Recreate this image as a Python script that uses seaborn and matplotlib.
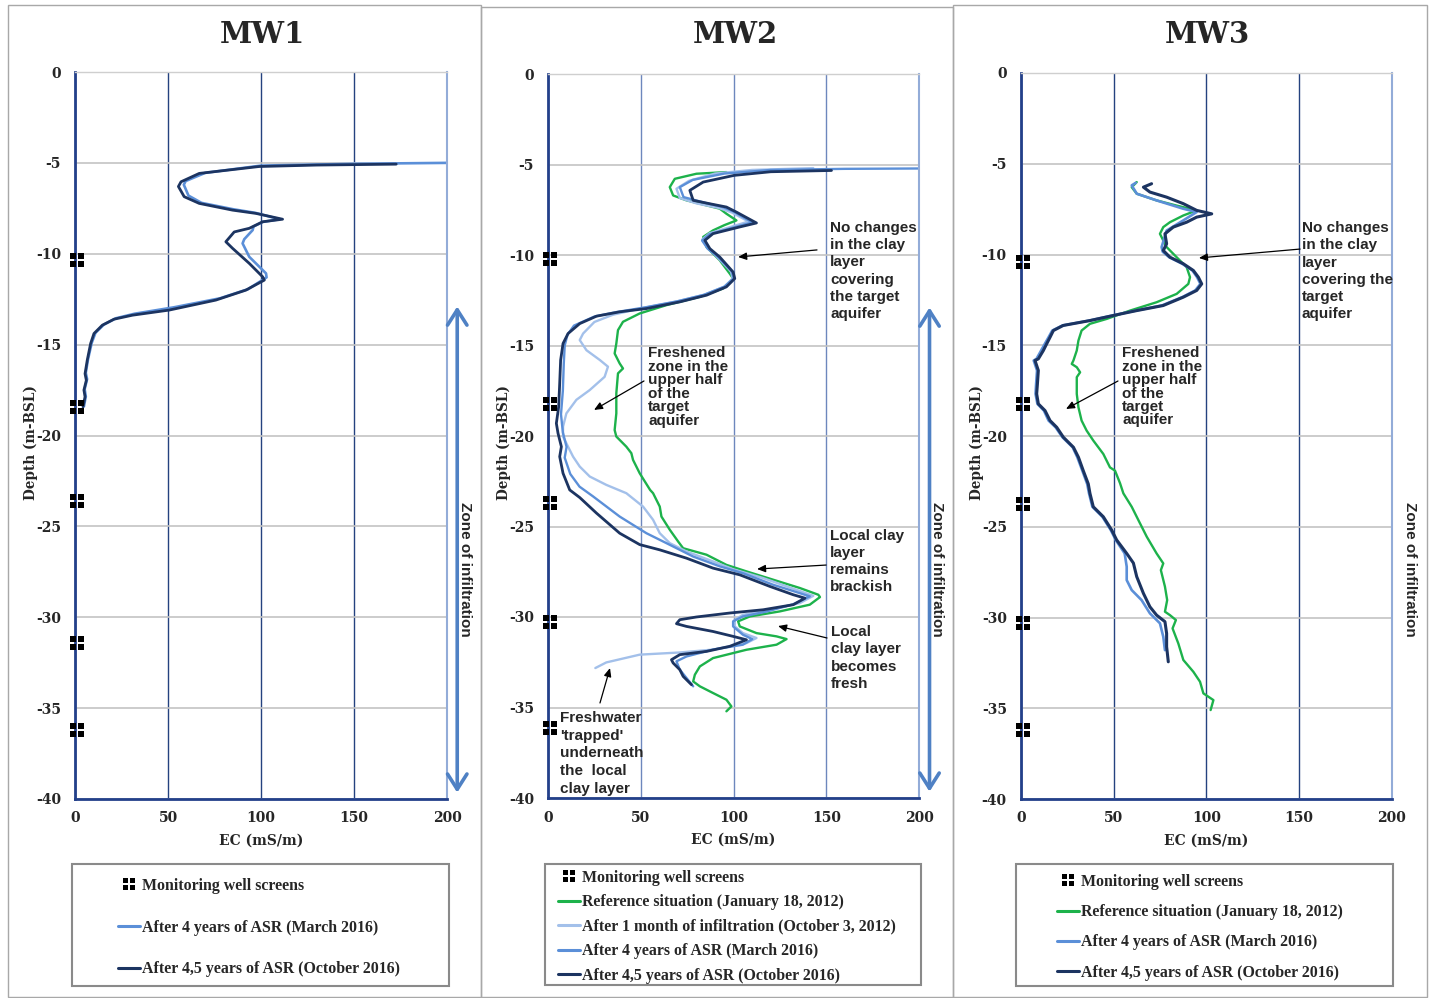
import matplotlib
matplotlib.use("Agg")
import matplotlib.pyplot as plt
import seaborn as sns
from matplotlib.lines import Line2D
from matplotlib.patches import Rectangle
from matplotlib.path import Path

# ---------------- data ----------------
ec_ticks = [0, 50, 100, 150, 200]
depth_ticks = [0, -5, -10, -15, -20, -25, -30, -35, -40]

# MW1
mw1_oct16_ec = [172.7, 130, 99, 66.8, 57, 55.6, 58.7, 66.8, 84.7, 97.3, 111.6, 100.9, 93.7, 85.6, 81.1, 84.7, 93.7,
                100.9, 101.8, 91.9, 75.7, 50.6, 30.9, 21.0, 14.7, 10.2, 8.4, 6.6, 5.4, 6.1, 4.8, 5.4, 4.3]
mw1_oct16_depth = [-5.07, -5.12, -5.2, -5.58, -6.04, -6.3, -6.86, -7.23, -7.6, -7.78, -8.1, -8.24, -8.6, -8.8, -9.34,
                   -9.7, -10.53, -11.27, -11.45, -12.0, -12.55, -13.1, -13.38, -13.6, -13.93, -14.39, -14.94, -15.85,
                   -16.6, -16.96, -17.5, -17.87, -18.42]
mw1_mar16_ec = [200, 150, 100, 70, 59.5, 58.5, 61, 68, 85, 97, 110, 101, 96, 95.5, 91, 90.1, 93.7, 102.7, 103, 93, 78,
                53, 32, 22, 15.5, 11, 9, 7, 5.8, 6.5, 5.2, 5.8, 4.8]
mw1_mar16_depth = [-5.0, -5.05, -5.15, -5.55, -6.0, -6.2, -6.8, -7.2, -7.55, -7.75, -8.1, -8.25, -8.5, -8.7, -9.2,
                   -9.43, -10.17, -11.08, -11.3, -11.95, -12.45, -12.95, -13.3, -13.55, -13.9, -14.35, -14.9, -15.8,
                   -16.55, -16.9, -17.45, -17.85, -18.4]
mw1_screens = [-10.34, -18.43, -23.6, -31.4, -36.2]

# MW2
mw2_jan12_ec = [96.1, 80, 68.3, 65.6, 67.4, 74.6, 85.4, 92.5, 96.1, 101.5, 95, 88.9, 83.6, 85.4, 92.5, 97.9, 99.7,
                94.3, 81.8, 63.8, 49.4, 40.4, 37.7, 36.8, 35.9, 38.6, 40.4, 37.7, 36.8, 36.8, 35.9, 36.8, 42.2, 44.9,
                45.8, 49.4, 55, 56.6, 60.2, 61.1, 65.6, 70.1, 72.8, 85.4, 96.1, 106.9, 121.3, 135.7, 145.6, 146.5,
                141, 124.9, 108.7, 102.4, 103.3, 112.3, 123.1, 128.5, 123.1, 106.9, 88.9, 81.8, 79.1, 78.2, 81.8,
                88.9, 96.1, 98.8, 96.1]
mw2_jan12_depth = [-5.42, -5.51, -5.79, -6.25, -6.71, -6.98, -7.26, -7.44, -7.72, -8.09, -8.35, -8.64, -9.0, -9.56,
                   -10.29, -11.03, -11.3, -11.85, -12.31, -12.77, -13.23, -13.69, -14.15, -14.89, -15.44, -15.99,
                   -16.27, -16.54, -17.64, -18.75, -19.67, -20.03, -20.59, -20.95, -21.32, -22.06, -22.98, -23.16,
                   -23.9, -24.45, -25.18, -25.83, -26.2, -26.56, -27.12, -27.48, -27.94, -28.4, -28.77, -28.9,
                   -29.32, -29.69, -29.97, -30.24, -30.52, -30.89, -31.07, -31.22, -31.53, -31.81, -32.27, -32.73,
                   -33.19, -33.56, -33.83, -34.2, -34.57, -34.94, -35.21]
mw2_oct12_ec = [142.9, 110, 90, 76, 69.2, 71, 80, 92, 99, 108, 100, 87, 83, 86, 91, 98.5, 99.5, 95, 84, 68, 50, 35,
                25, 18.9, 17.1, 20.7, 27.9, 32.3, 30.5, 22.5, 15.3, 9.9, 8.1, 8.1, 10.8, 13.5, 17.1, 22.5, 31.4, 42.2,
                51.2, 56.6, 60.2, 65.6, 74.6, 88.9, 99.7, 115.9, 133.9, 142.9, 135.7, 119.5, 105, 100.6, 100.6, 105,
                112.3, 106.9, 88.9, 71, 49.4, 31.4, 25.5]
mw2_oct12_depth = [-5.2, -5.3, -5.5, -5.9, -6.34, -6.85, -7.15, -7.4, -7.65, -8.15, -8.4, -8.8, -9.15, -9.6, -10.1,
                   -10.9, -11.3, -11.75, -12.2, -12.6, -12.95, -13.3, -13.7, -14.34, -14.7, -15.26, -15.8, -16.17,
                   -16.73, -17.46, -18.0, -18.75, -19.48, -20.03, -20.59, -21.14, -21.69, -22.24, -22.7, -23.16,
                   -23.9, -24.63, -25.37, -25.92, -26.38, -26.93, -27.36, -27.85, -28.5, -28.83, -29.23, -29.6,
                   -29.88, -30.15, -30.52, -30.89, -31.16, -31.44, -31.8, -31.96, -32.08, -32.51, -32.82]
mw2_mar16_ec = [200, 160, 120, 95, 78, 71, 73, 84, 94, 100, 110, 101, 87, 83, 86, 91.5, 99, 100, 95, 84, 70, 52, 37,
                25, 14, 10.5, 9, 8.5, 8, 7, 8, 10, 9, 12, 17, 24.3, 38.6, 53, 63.8, 78.2, 92.5, 105, 121.3, 135.6,
                141, 132, 117.7, 105, 99.7, 99.7, 105, 110, 105, 88.9, 74.6, 69.2, 71, 74.6, 78.2]
mw2_mar16_depth = [-5.22, -5.24, -5.3, -5.5, -5.85, -6.25, -6.8, -7.1, -7.35, -7.6, -8.2, -8.45, -8.85, -9.2, -9.65,
                   -10.1, -10.9, -11.3, -11.75, -12.2, -12.55, -12.9, -13.15, -13.4, -13.9, -14.4, -15.0, -16.0,
                   -17.5, -18.8, -19.8, -20.6, -21.2, -22.1, -22.8, -23.34, -24.45, -25.37, -25.92, -26.66, -27.2,
                   -27.58, -28.22, -28.68, -28.86, -29.3, -29.7, -29.97, -30.24, -30.52, -30.98, -31.22, -31.53,
                   -31.8, -32.18, -32.45, -32.91, -33.37, -33.83]
mw2_oct16_ec = [152.7, 120, 100.3, 83.6, 76.4, 78.2, 87.2, 96.1, 101.5, 112.3, 103.3, 88.9, 84.5, 87.2, 92.5, 99.7,
                100.6, 96.1, 85.4, 71, 53, 38.6, 26.1, 17.1, 10.8, 8.1, 6.8, 6.3, 5.75, 4.5, 5.4, 7.2, 6.3, 8.1,
                11.7, 17.1, 26.1, 38.6, 49.4, 60.2, 74.6, 88.9, 103.3, 119.5, 132.1, 138.4, 132.1, 115.9, 97.9,
                79.9, 71, 69.2, 74.6, 88.9, 99.7, 106.9, 97.9, 85.4, 71, 66.5, 67.4, 71, 72.8, 76.4, 77.3]
mw2_oct16_depth = [-5.33, -5.4, -5.6, -5.97, -6.43, -6.98, -7.17, -7.35, -7.63, -8.23, -8.45, -8.82, -9.19, -9.65,
                   -10.11, -10.94, -11.3, -11.76, -12.22, -12.59, -12.96, -13.14, -13.38, -13.79, -14.34, -14.89,
                   -15.81, -17.09, -18.38, -19.3, -19.85, -20.59, -21.14, -22.06, -22.98, -23.4, -24.26, -25.37,
                   -26.0, -26.29, -26.75, -27.3, -27.67, -28.31, -28.77, -28.96, -29.32, -29.6, -29.78, -30.0,
                   -30.15, -30.37, -30.52, -30.8, -31.07, -31.26, -31.62, -31.9, -32.08, -32.36, -32.54, -32.91,
                   -33.28, -33.65, -33.74]
mw2_screens = [-10.22, -18.23, -23.7, -30.28, -36.13]

# MW3
mw3_jan12_ec = [62.5, 59.8, 62.5, 73.2, 83.8, 94.8, 87.6, 80.4, 76.8, 75, 76.8, 78.6, 84, 89.4, 91.2, 90.3, 84, 73.2,
                58.9, 46.3, 37.3, 32.8, 31.1, 30.2, 28.4, 27.5, 30.2, 32, 30.2, 30.2, 31.1, 32.8, 35.5, 39.1, 44.5,
                48.1, 50.8, 53.5, 55.3, 59.8, 64.3, 67.9, 73.2, 76.8, 75.5, 77.7, 78.9, 77.7, 80.4, 83.6, 81.8, 84.9,
                87.6, 93, 96.6, 98.4, 103.8, 102.3]
mw3_jan12_depth = [-6.01, -6.29, -6.65, -7.02, -7.3, -7.57, -7.85, -8.22, -8.49, -8.86, -9.23, -9.59, -10.15, -10.7,
                   -11.25, -11.62, -12.17, -12.63, -13.09, -13.55, -13.82, -14.19, -14.74, -15.29, -15.84, -16.03,
                   -16.21, -16.49, -16.76, -17.68, -18.42, -19.15, -19.7, -20.25, -20.99, -21.73, -21.91, -22.6,
                   -23.16, -23.9, -24.82, -25.55, -26.47, -27.02, -27.39, -28.3, -29.04, -29.68, -29.87, -30.14,
                   -30.6, -31.43, -32.34, -32.99, -33.54, -34.18, -34.55, -35.1]
mw3_mar16_ec = [62, 59.8, 62.5, 73.2, 87.6, 94.8, 87.6, 78.6, 75.9, 76.5, 80, 87, 92.5, 95, 96.8, 94, 87, 76, 62,
                49.5, 37, 22.5, 17, 15, 13, 11, 8.5, 7, 8.8, 8.3, 8, 9, 12.5, 15, 18.8, 22.5, 28, 30.5, 33.2, 35.8,
                36.8, 38.6, 44, 48.5, 51.2, 56, 57.1, 57.1, 59.8, 65.1, 69.6, 75, 76.8, 77.7]
mw3_mar16_depth = [-6.05, -6.19, -6.65, -7.02, -7.48, -7.66, -8.12, -8.68, -9.59, -9.85, -10.15, -10.51, -10.88,
                   -11.25, -11.62, -11.98, -12.35, -12.81, -13.09, -13.36, -13.64, -13.91, -14.19, -14.56, -14.92,
                   -15.29, -15.75, -15.84, -16.39, -17.13, -17.68, -18.23, -18.6, -19.15, -19.52, -20.07, -20.62,
                   -21.17, -21.91, -22.64, -23.16, -23.9, -24.45, -25.18, -25.73, -26.47, -27.2, -27.94, -28.49,
                   -29.04, -29.77, -30.32, -31.06, -31.8]
mw3_oct16_ec = [70.5, 66.1, 69.6, 78.6, 87.6, 94.8, 102.9, 94.8, 89.4, 82.2, 77.7, 78.6, 76.8, 80.4, 87.6, 93, 95.7,
                97.5, 94.8, 87.6, 76.8, 62.5, 49.9, 37.3, 22.9, 17.6, 15.8, 14, 12.2, 9.5, 7.7, 9.5, 9, 8.6, 9.5,
                13.1, 15.8, 19.4, 23, 28.4, 31.1, 33.7, 36.4, 37.3, 39.1, 44.5, 49, 51.7, 57.1, 60.7, 62.5, 66.1,
                69.6, 73.2, 77.7, 78.6, 78.6, 79.5]
mw3_oct16_depth = [-6.1, -6.29, -6.56, -6.84, -7.2, -7.57, -7.76, -7.94, -8.22, -8.49, -8.86, -9.41, -9.78, -10.15,
                   -10.51, -10.88, -11.25, -11.62, -11.98, -12.35, -12.81, -13.09, -13.36, -13.64, -13.91, -14.19,
                   -14.56, -14.92, -15.29, -15.75, -15.84, -16.39, -17.13, -17.68, -18.23, -18.6, -19.15, -19.52,
                   -20.07, -20.62, -21.17, -21.91, -22.64, -23.16, -23.9, -24.45, -25.18, -25.73, -26.47, -27.0,
                   -27.75, -28.67, -29.41, -29.87, -30.23, -30.88, -31.61, -32.44]
mw3_screens = [-10.41, -18.26, -23.77, -30.3, -36.2]

titles = ["MW1", "MW2", "MW3"]
label_screens = "Monitoring well screens"
label_jan12 = "Reference situation (January 18, 2012)"
label_oct12 = "After 1 month of infiltration (October 3, 2012)"
label_mar16 = "After 4 years of ASR (March 2016)"
label_oct16 = "After 4,5 years of ASR (October 2016)"

# ---------------- style ----------------
C_GREEN = "#1db24b"
C_VLIGHT = "#a3c0ea"
C_MED = "#5b8fd8"
C_DARK = "#1c3461"
C_ARROW = "#4f81c4"

sns.set_style("white")
plt.rcParams["axes.unicode_minus"] = False
plt.rcParams["font.family"] = ["DejaVu Serif"]

W, H = 1431, 998
fig = plt.figure(figsize=(W / 100, H / 100), dpi=100)


def fx(px):
    return px / W


def fy(py):
    return 1 - py / H


# "screen" marker: a square split into four by a thin white cross
g = 0.1
verts, codes = [], []
for (sx, sy) in [(-1, -1), (1, -1), (1, 1), (-1, 1)]:
    xa, xb = sorted([sx * g, sx * 1.0])
    ya, yb = sorted([sy * g, sy * 1.0])
    verts += [(xa, ya), (xb, ya), (xb, yb), (xa, yb), (xa, ya)]
    codes += [Path.MOVETO, Path.LINETO, Path.LINETO, Path.LINETO, Path.CLOSEPOLY]
SCREEN_MARKER = Path(verts, codes)

# panel borders
for (x0, y0, x1, y1) in [(8, 5, 481, 997), (481, 7, 953, 997), (953, 5, 1427, 997)]:
    fig.add_artist(Rectangle((fx(x0), fy(y1)), (x1 - x0) / W, (y1 - y0) / H, transform=fig.transFigure,
                             fill=False, ec="#a8a8a8", lw=1.0))

axes_px = [(75, 72, 447, 799), (548, 74, 919.3, 798), (1020.7, 73, 1392, 799)]
axs = []
for (x0, y0, x1, y1) in axes_px:
    axs.append(fig.add_axes([fx(x0), fy(y1), (x1 - x0) / W, (y1 - y0) / H]))

grid_cols = ["#24427f", "#6d87bd", "#24427f"]
for i, ax in enumerate(axs):
    ax.set_xlim(0, 200)
    ax.set_ylim(-40, 0)
    ax.set_xticks(ec_ticks)
    ax.set_yticks(depth_ticks)
    ax.set_axisbelow(True)
    ax.xaxis.grid(True, color=grid_cols[i], lw=1.0)
    ax.yaxis.grid(True, color="#c3c3c3", lw=1.2)
    for s in ["left", "bottom"]:
        ax.spines[s].set_color("#23408a")
        ax.spines[s].set_linewidth(2.0)
    ax.spines["top"].set_color("#cfcfcf")
    ax.spines["top"].set_linewidth(1.0)
    ax.spines["right"].set_color("#93acd8")
    ax.spines["right"].set_linewidth(1.5)
    ax.tick_params(axis="both", which="major", length=4, width=1.2, color="#23408a", direction="out",
                   labelsize=10, pad=5)
    ax.tick_params(axis="y", pad=6)
    for lab in ax.get_xticklabels() + ax.get_yticklabels():
        lab.set_fontweight("bold")
    ax.set_xlabel("EC (mS/m)", fontsize=10, fontweight="bold", labelpad=6)
    ax.set_ylabel("Depth (m-BSL)", fontsize=9.8, fontweight="bold")
    h_ax = axes_px[i][3] - axes_px[i][1]
    w_ax = axes_px[i][2] - axes_px[i][0]
    ax.yaxis.set_label_coords(-37 / w_ax, 1 - (443 - axes_px[i][1]) / h_ax)

title_x = [262, 735, 1207]
for t, x in zip(titles, title_x):
    fig.text(fx(x), fy(43), t, ha="center", va="baseline", fontsize=21, fontweight="bold", family="DejaVu Serif")


def draw_line(ax, ec, depth, color, lw):
    sns.lineplot(x=ec, y=depth, sort=False, estimator=None, color=color, lw=lw, ax=ax, legend=False)


def draw_screens(ax, depths):
    xs = [1.2] * len(depths)
    sns.scatterplot(x=xs, y=depths, marker=SCREEN_MARKER, s=105, color="black", linewidth=0, ax=ax, clip_on=False,
                    zorder=6, legend=False)


# MW1
draw_line(axs[0], mw1_mar16_ec, mw1_mar16_depth, C_MED, 1.9)
draw_line(axs[0], mw1_oct16_ec, mw1_oct16_depth, C_DARK, 2.0)
draw_screens(axs[0], mw1_screens)
# MW2
draw_line(axs[1], mw2_jan12_ec, mw2_jan12_depth, C_GREEN, 1.7)
draw_line(axs[1], mw2_oct12_ec, mw2_oct12_depth, C_VLIGHT, 1.7)
draw_line(axs[1], mw2_mar16_ec, mw2_mar16_depth, C_MED, 1.7)
draw_line(axs[1], mw2_oct16_ec, mw2_oct16_depth, C_DARK, 2.0)
draw_screens(axs[1], mw2_screens)
# MW3
draw_line(axs[2], mw3_jan12_ec, mw3_jan12_depth, C_GREEN, 1.7)
draw_line(axs[2], mw3_mar16_ec, mw3_mar16_depth, C_MED, 1.9)
draw_line(axs[2], mw3_oct16_ec, mw3_oct16_depth, C_DARK, 2.2)
draw_screens(axs[2], mw3_screens)

# zone of infiltration
for i, ax in enumerate(axs):
    if i < 2:
        ax.annotate("", xy=(205.5, -39.65), xytext=(205.5, -12.9),
                    arrowprops=dict(arrowstyle="<->,head_length=0.55,head_width=0.35", color=C_ARROW, lw=2.6,
                                    mutation_scale=20, shrinkA=0, shrinkB=0),
                    annotation_clip=False)
    ax.text(209.7, -27.35, "Zone of infiltration", rotation=270, ha="center", va="center", fontsize=11,
            fontweight="bold", family="Liberation Sans", clip_on=False)

# annotations
ann_font = dict(fontsize=11, fontweight="bold", family="Liberation Sans", ha="left", va="top")
arrow_kw = dict(arrowstyle="-|>,head_length=0.5,head_width=0.22", color="black", lw=0.9, mutation_scale=10,
                shrinkA=0, shrinkB=0)


def note(ax, text, txy, start, tip, ls):
    ax.text(txy[0], txy[1], text, linespacing=ls, **ann_font)
    ax.annotate("", xy=tip, xytext=start, arrowprops=arrow_kw, annotation_clip=False)


note(axs[1], "No changes\nin the clay\nlayer\ncovering\nthe target\naquifer", (151.9, -8.1),
     (144.9, -9.72), (102.4, -10.11), 1.3)
note(axs[1], "Freshened\nzone in the\nupper half\nof the\ntarget\naquifer", (53.9, -15.05),
     (51.7, -16.96), (24.8, -18.56), 0.95)
note(axs[1], "Local clay\nlayer\nremains\nbrackish", (151.9, -25.15), (149.8, -27.13), (112.6, -27.35), 1.28)
note(axs[1], "Local\nclay layer\nbecomes\nfresh", (152.5, -30.45), (150.3, -31.16), (123.9, -30.5), 1.3)
note(axs[1], "Freshwater\n'trapped'\nunderneath\nthe  local\nclay layer", (6.5, -35.2), (28, -34.75),
     (33.4, -32.82), 1.33)
note(axs[2], "No changes\nin the clay\nlayer\ncovering the\ntarget\naquifer", (151.5, -8.15),
     (150.5, -9.7), (96, -10.19), 1.3)
note(axs[2], "Freshened\nzone in the\nupper half\nof the\ntarget\naquifer", (54.6, -15.05),
     (52.4, -16.97), (24.4, -18.51), 0.95)


# legends
def screens_handle():
    return Line2D([], [], ls="", marker=SCREEN_MARKER, color="black", ms=8, mew=0)


def line_handle(c):
    return Line2D([], [], color=c, lw=2.2)


legend_specs = [
    ((72, 864, 449, 986), 118, 878,
     [screens_handle(), line_handle(C_MED), line_handle(C_DARK)],
     [label_screens, label_mar16, label_oct16], 1.62),
    ((545, 864, 921, 985), 558, 870,
     [screens_handle(), line_handle(C_GREEN), line_handle(C_VLIGHT), line_handle(C_MED), line_handle(C_DARK)],
     [label_screens, label_jan12, label_oct12, label_mar16, label_oct16], 0.53),
    ((1016, 864, 1393, 986), 1057, 874,
     [screens_handle(), line_handle(C_GREEN), line_handle(C_MED), line_handle(C_DARK)],
     [label_screens, label_jan12, label_mar16, label_oct16], 0.9),
]
for (bx0, by0, bx1, by1), lx, ly, handles, labels, sp in legend_specs:
    fig.add_artist(Rectangle((fx(bx0), fy(by1)), (bx1 - bx0) / W, (by1 - by0) / H, transform=fig.transFigure,
                             fill=False, ec="#8a8a8a", lw=1.5))
    fig.legend(handles, labels, loc="upper left", bbox_to_anchor=(fx(lx), fy(ly)), bbox_transform=fig.transFigure,
               frameon=False, borderpad=0, borderaxespad=0, handlelength=1.4, handletextpad=0.12,
               labelspacing=sp, prop={"family": "Liberation Serif", "weight": "bold", "size": 11.4})

fig.savefig("out.png", dpi=100)
